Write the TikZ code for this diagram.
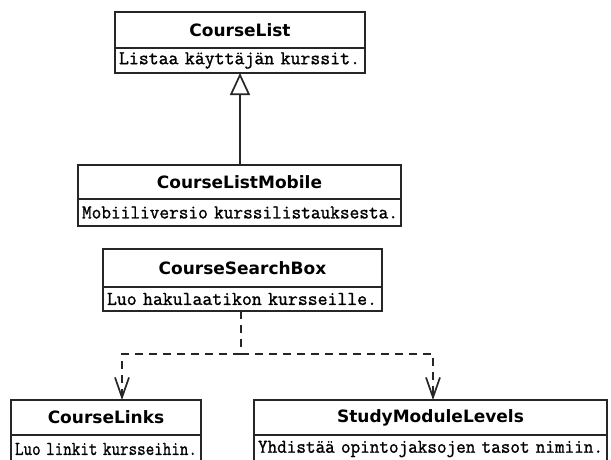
\documentclass[tikz,border=0pt]{standalone}
\usepackage{fontspec}
\newfontfamily\titlefont{DejaVu Sans}
\newfontfamily\monofont{Latin Modern Mono}[FakeBold=1.2]
\usetikzlibrary{arrows.meta}
\newcommand{\fitto}[2]{\mbox{\resizebox{#1}{\height}{#2}}}
\tikzset{
  frame/.style={draw=black!85, line width=1.7pt, outer sep=0pt},
  titlebox/.style={frame, anchor=north west, inner sep=0pt,
    font=\titlefont\bfseries\fontsize{17}{19}\selectfont},
  bodybox/.style={frame, anchor=north west, inner xsep=4pt, inner ysep=0pt, align=left,
    font=\monofont\fontsize{19.5}{21}\selectfont},
  inherit/.style={black!85, line width=1.7pt, -{Triangle[open, length=22pt, width=20pt, line width=1.7pt]}},
  dep/.style={black!85, line width=2.2pt, dash pattern=on 8pt off 6pt},
  deparrow/.style={dep, -{Straight Barb[length=20pt, width=14pt, line width=1.7pt]}}
}
\begin{document}
\begin{tikzpicture}[x=1pt,y=-1pt]
\useasboundingbox[fill=white] (0,0) rectangle (611,459);
% CourseList
\node[titlebox, minimum width=250pt, minimum height=36pt] (cl) at (115,12) {CourseList};
\node[bodybox, minimum height=25pt, text width=242pt] (clb) at (cl.south west) {\fitto{241pt}{Listaa käyttäjän kurssit.}};
% CourseListMobile
\node[titlebox, minimum width=323pt, minimum height=34pt] (clm) at (78,165) {CourseListMobile};
\node[bodybox, minimum height=27pt, text width=315pt] (clmb) at (clm.south west) {\fitto{316pt}{Mobiiliversio kurssilistauksesta.}};
% CourseSearchBox
\node[titlebox, minimum width=279pt, minimum height=38pt] (csb) at (103,249) {CourseSearchBox};
\node[bodybox, minimum height=24pt, text width=271pt] (csbb) at (csb.south west) {\fitto{270pt}{Luo hakulaatikon kursseille.}};
% CourseLinks
\node[titlebox, minimum width=190pt, minimum height=35pt] (lnk) at (11,400) {CourseLinks};
\node[bodybox, minimum height=28pt, text width=182pt] (lnkb) at (lnk.south west) {\fitto{182pt}{Luo linkit kursseihin.}};
% StudyModuleLevels
\node[titlebox, minimum width=353pt, minimum height=35pt] (sml) at (254,400) {StudyModuleLevels};
\node[bodybox, minimum height=28pt, text width=345pt] (smlb) at (sml.south west) {\fitto{345pt}{Yhdistää opintojaksojen tasot nimiin.}};
% connectors
\draw[inherit] (clm.north -| 240,0) -- (clb.south -| 240,0);
\coordinate (j) at (241,354);
\coordinate (lt) at (122,400);
\coordinate (st) at (433,400);
\draw[dep] (csbb.south -| j) -- (j);
\draw[deparrow] (j) -| (lt);
\draw[deparrow] (j) -| (st);
\end{tikzpicture}
\end{document}
